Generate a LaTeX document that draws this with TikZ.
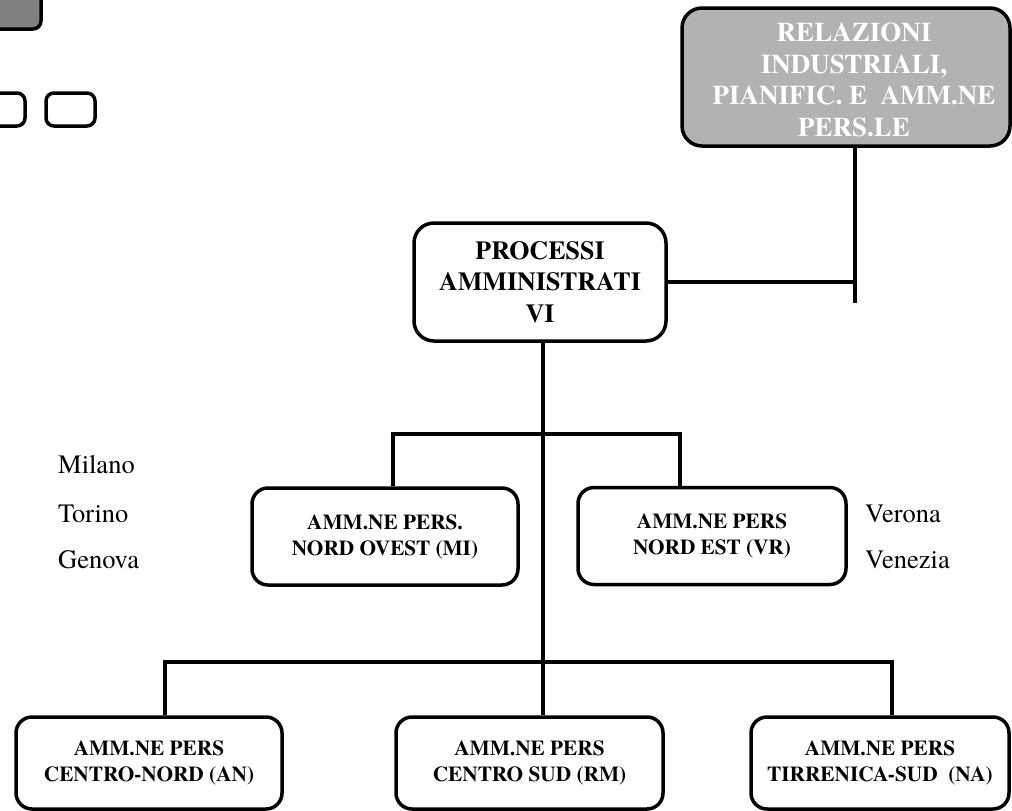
\documentclass[tikz,border=0pt]{standalone}
\usepackage{fontspec}
\setmainfont{texgyretermes}[Extension=.otf,UprightFont=*-regular,BoldFont=*-bold,ItalicFont=*-italic,BoldItalicFont=*-bolditalic]
\definecolor{lgray}{HTML}{B2B2B2}
\definecolor{dgray}{HTML}{808080}
\begin{document}
\begin{tikzpicture}[x=1pt,y=-1pt,
  box/.style={draw=black,line width=3.5pt,rounded corners=16pt,fill=white,
    inner sep=0pt,align=center,font=\bfseries\fontsize{21.3}{26}\selectfont},
  bigbox/.style={box,rounded corners=20pt,font=\bfseries\fontsize{26}{31.5}\selectfont},
  conn/.style={line width=3.2pt},
  city/.style={anchor=base west,inner sep=0pt,font=\fontsize{26.5}{30}\selectfont}]
\useasboundingbox (0,0) rectangle (1012,811);
% fragments at the top left
\draw[line width=3.5pt,fill=dgray,rounded corners=8pt] (-20,-20) rectangle (41,29);
\draw[line width=3.5pt,rounded corners=8pt] (-30,93) rectangle (25,126);
\draw[line width=3.5pt,rounded corners=8pt] (46,93) rectangle (95,126);
% boxes
\node[bigbox,fill=lgray,minimum width=328pt,minimum height=138pt] (rel) at (846,77) {};
\node[align=center,inner sep=0pt,text=white,font=\bfseries\fontsize{27}{31.5}\selectfont] (relt) at (854,80)
  {RELAZIONI\\INDUSTRIALI,\\PIANIFIC. E\ \ AMM.NE\\PERS.LE};
\node[bigbox,minimum width=252pt,minimum height=118pt] (proc) at (540,282)
  {PROCESSI\\AMMINISTRATI\\VI};
\node[box,minimum width=266pt,minimum height=97pt] (no) at (385,536.5)
  {AMM.NE PERS.\\NORD OVEST (MI)};
\node[box,minimum width=268pt,minimum height=97pt] (ne) at (712,536)
  {AMM.NE PERS\\NORD EST (VR)};
\node[box,minimum width=266pt,minimum height=92pt] (cn) at (149,763)
  {AMM.NE PERS\\CENTRO-NORD (AN)};
\node[box,minimum width=267pt,minimum height=92pt] (cs) at (529.5,763)
  {AMM.NE PERS\\CENTRO SUD (RM)};
\node[box,minimum width=258pt,minimum height=92pt] (ts) at (880,763)
  {AMM.NE PERS\\TIRRENICA-SUD\ \ (NA)};
% cities
\node[city] (mi) at (58,473) {Milano};
\node[city] (to) at (58,522) {Torino};
\node[city] (ge) at (58,568) {Genova};
\node[city] (vr) at (865,522) {Verona};
\node[city] (ve) at (865,568) {Venezia};
% connectors
\coordinate (relb) at (855,303);
\coordinate (spine) at (543,700);
\coordinate (mbl) at (393,434);
\coordinate (mbr) at (680,434);
\coordinate (bbl) at (165,662);
\coordinate (bbr) at (892,662);
\draw[conn] (relb |- rel.south) -- (relb);
\draw[conn] (proc.east) -- (relb |- proc.east);
\draw[conn] (spine |- proc.south) -- (spine |- cs.north);
\draw[conn] (mbl |- no.north) -- (mbl) -- (mbr) -- (mbr |- ne.north);
\draw[conn] (bbl |- cn.north) -- (bbl) -- (bbr) -- (bbr |- ts.north);
\end{tikzpicture}
\end{document}
